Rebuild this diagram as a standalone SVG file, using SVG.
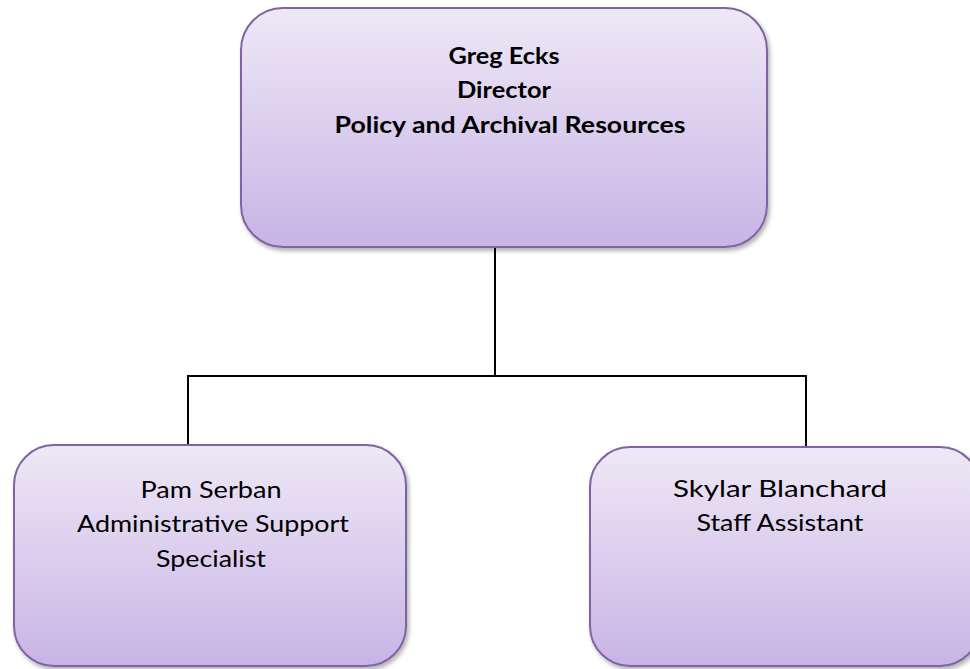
<svg xmlns="http://www.w3.org/2000/svg" width="970" height="669" viewBox="0 0 970 669">
<defs>
<linearGradient id="g" x1="0" y1="0" x2="0" y2="1">
<stop offset="0" stop-color="#eee8f6"/>
<stop offset="1" stop-color="#c8b4e5"/>
</linearGradient>
<filter id="sh" x="-5%" y="-5%" width="112%" height="115%">
<feDropShadow dx="2" dy="3" stdDeviation="2" flood-color="#000" flood-opacity="0.3"/>
</filter>
<style>
.box{fill:url(#g);stroke:#8064a2;stroke-width:2;filter:url(#sh)}
.t{font-family:Lato,"Liberation Sans",sans-serif;font-size:23px;fill:#000;text-anchor:middle}
.b{font-weight:bold}
.c{fill:none;stroke:#000;stroke-width:2}
</style>
</defs>
<rect width="970" height="669" fill="#fff"/>
<g id="connectors">
<path class="c" d="M495 247V376M188 376H806M188 375V446M806 375V448"/>
</g>
<g id="director">
<rect class="box" x="241" y="8" width="526" height="239" rx="42"/>
<text class="t b" x="504" y="64" textLength="111" lengthAdjust="spacingAndGlyphs">Greg Ecks</text>
<text class="t b" x="504" y="98" textLength="94" lengthAdjust="spacingAndGlyphs">Director</text>
<text class="t b" x="510" y="133" textLength="351" lengthAdjust="spacingAndGlyphs">Policy and Archival Resources</text>
</g>
<g id="pam">
<rect class="box" x="14" y="445" width="392" height="221" rx="40"/>
<text class="t" x="211" y="498" textLength="141" lengthAdjust="spacingAndGlyphs">Pam Serban</text>
<text class="t" x="213" y="532" textLength="272" lengthAdjust="spacingAndGlyphs">Administrative Support</text>
<text class="t" x="211" y="567" textLength="110" lengthAdjust="spacingAndGlyphs">Specialist</text>
</g>
<g id="skylar">
<rect class="box" x="590" y="447" width="390" height="219" rx="40"/>
<text class="t" x="780" y="497" textLength="214" lengthAdjust="spacingAndGlyphs">Skylar Blanchard</text>
<text class="t" x="780" y="531" textLength="167" lengthAdjust="spacingAndGlyphs">Staff Assistant</text>
</g>
</svg>
